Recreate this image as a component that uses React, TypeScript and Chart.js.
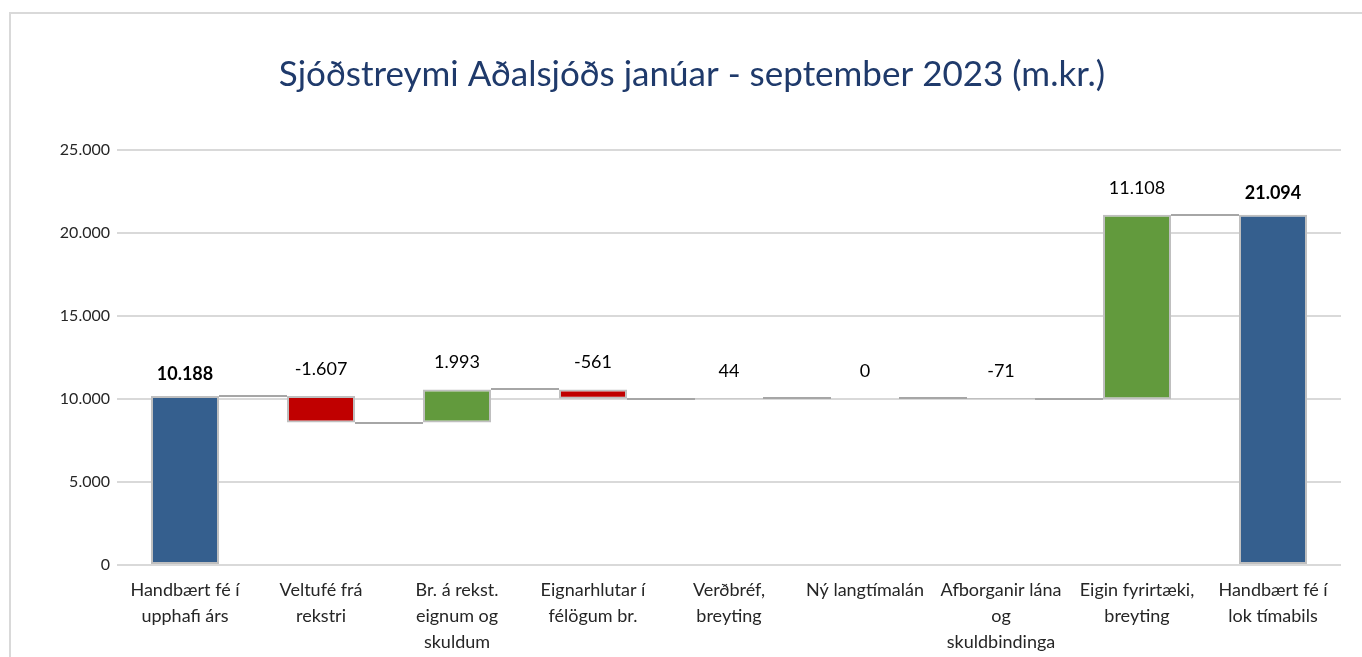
import React, { useEffect, useRef } from "react";
import { Chart, registerables } from "chart.js";

Chart.register(...registerables);

const TITLE = "Sjóðstreymi Aðalsjóðs janúar - september 2023 (m.kr.)";

const categories: string[][] = [
  ["Handbært fé í", "upphafi árs"],
  ["Veltufé frá", "rekstri"],
  ["Br. á rekst.", "eignum og", "skuldum"],
  ["Eignarhlutar í", "félögum br."],
  ["Verðbréf,", "breyting"],
  ["Ný langtímalán"],
  ["Afborganir lána", "og", "skuldbindinga"],
  ["Eigin fyrirtæki,", "breyting"],
  ["Handbært fé í", "lok tímabils"],
];

// values (m.kr.)
const openingBalance = 10188;
const changes = [-1607, 1993, -561, 44, 0, -71, 11108];
const closingBalance = 21094;

const yTicks = [0, 5000, 10000, 15000, 20000, 25000];

const COLOR_TOTAL = "#355F8E";
const COLOR_UP = "#629A3D";
const COLOR_DOWN = "#C00000";

function fmt(v: number): string {
  const s = Math.abs(Math.round(v))
    .toString()
    .replace(/\B(?=(\d{3})+(?!\d))/g, ".");
  return (v < 0 ? "-" : "") + s;
}

export default function App() {
  const ref = useRef<HTMLCanvasElement | null>(null);

  useEffect(() => {
    if (!ref.current) return;

    const ranges: [number, number][] = [];
    const labels: number[] = [];
    const colors: string[] = [];
    const isTotal: boolean[] = [];
    ranges.push([0, openingBalance]);
    labels.push(openingBalance);
    colors.push(COLOR_TOTAL);
    isTotal.push(true);
    let run = openingBalance;
    for (const c of changes) {
      ranges.push([run, run + c]);
      labels.push(c);
      colors.push(c < 0 ? COLOR_DOWN : COLOR_UP);
      isTotal.push(false);
      run += c;
    }
    ranges.push([0, closingBalance]);
    labels.push(closingBalance);
    colors.push(COLOR_TOTAL);
    isTotal.push(true);

    const FONT = "Lato, 'Open Sans', sans-serif";

    const waterfallPlugin = {
      id: "waterfallExtras",
      afterDatasetsDraw(chart: any) {
        const ctx = chart.ctx;
        const meta = chart.getDatasetMeta(0);
        const y = chart.scales.y;
        ctx.save();
        // connectors
        ctx.strokeStyle = "#A6A6A6";
        ctx.lineWidth = 2;
        for (let i = 0; i < meta.data.length - 1; i++) {
          const a = meta.data[i] as any;
          const b = meta.data[i + 1] as any;
          const level = ranges[i][1];
          const py = Math.round(y.getPixelForValue(level));
          ctx.beginPath();
          ctx.moveTo(a.x + a.width / 2, py);
          ctx.lineTo(b.x - b.width / 2, py);
          ctx.stroke();
        }
        // value labels
        ctx.textAlign = "center";
        ctx.textBaseline = "middle";
        ctx.fillStyle = "#000000";
        for (let i = 0; i < meta.data.length; i++) {
          const el = meta.data[i] as any;
          const top = Math.max(ranges[i][0], ranges[i][1]);
          const py = y.getPixelForValue(top);
          ctx.font = (isTotal[i] ? "bold " : "") + "18px " + FONT;
          ctx.fillText(fmt(labels[i]), el.x, py - (isTotal[i] ? 22 : 27));
        }
        // title
        ctx.font = "35px " + FONT;
        ctx.fillStyle = "#1F3A6B";
        ctx.fillText(TITLE, 692, 75);
        ctx.restore();
      },
    };

    const chart = new Chart(ref.current, {
      type: "bar",
      data: {
        labels: categories,
        datasets: [
          {
            data: ranges as any,
            backgroundColor: colors,
            borderColor: "#BFBFBF",
            borderWidth: 2,
            borderSkipped: false,
            barPercentage: 1,
            categoryPercentage: 0.5,
          },
        ],
      },
      options: {
        animation: false,
        responsive: false,
        maintainAspectRatio: false,
        layout: { padding: { top: 150, right: 21, left: 0, bottom: 0 } },
        plugins: {
          legend: { display: false },
          tooltip: { enabled: false },
          title: { display: false },
        },
        scales: {
          x: {
            grid: { display: false, drawTicks: false },
            border: { display: false },
            ticks: {
              color: "#262626",
              font: { family: FONT, size: 18, lineHeight: 1.45 },
              padding: 12,
              maxRotation: 0,
              autoSkip: false,
            },
            afterFit(scale: any) {
              scale.height = 92;
            },
          },
          y: {
            min: 0,
            max: 25000,
            afterBuildTicks(scale: any) {
              scale.ticks = yTicks.map((v) => ({ value: v }));
            },
            grid: { color: "#D9D9D9", lineWidth: 2, drawTicks: false },
            border: { display: false },
            ticks: {
              color: "#262626",
              font: { family: FONT, size: 16 },
              padding: 7,
              callback: (v: any) => fmt(Number(v)),
            },
            afterFit(scale: any) {
              scale.width = 117;
            },
          },
        },
      },
      plugins: [waterfallPlugin],
    });

    return () => chart.destroy();
  }, []);

  return (
    <div
      style={{
        position: "fixed",
        left: 0,
        top: 0,
        width: 1362,
        height: 657,
        overflow: "hidden",
        background: "#ffffff",
      }}
    >
      <div
        style={{
          position: "absolute",
          left: 9,
          top: 12,
          width: 1400,
          height: 700,
          border: "2px solid #D9D9D9",
          boxSizing: "border-box",
        }}
      />
      <canvas
        ref={ref}
        width={1362}
        height={657}
        style={{ position: "absolute", left: 0, top: 0, width: 1362, height: 657 }}
      />
    </div>
  );
}
